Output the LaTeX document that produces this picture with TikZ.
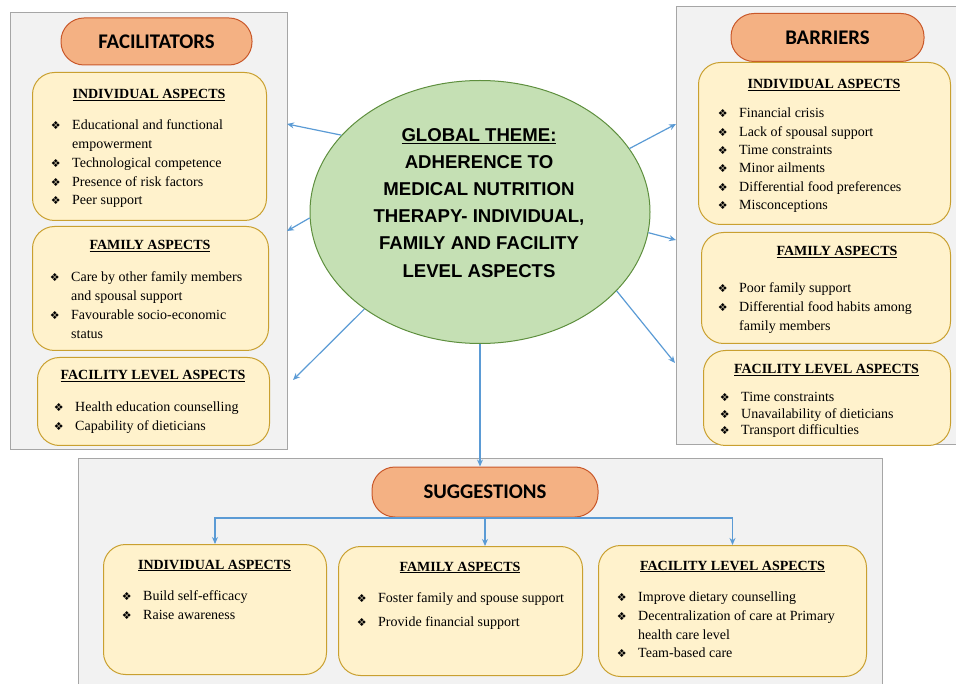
\documentclass[tikz,border=0pt]{standalone}
\usepackage{fontspec}
\setmainfont{Liberation Serif}
\newfontfamily\pillfont{Carlito}
\newfontfamily\themefont{Liberation Sans}
\newfontfamily\dvfont{DejaVu Sans}
\usetikzlibrary{shapes.geometric,arrows.meta}
\definecolor{panelfill}{HTML}{F2F2F2}
\definecolor{panelline}{HTML}{A6A6A6}
\definecolor{pillfill}{HTML}{F4B183}
\definecolor{pillline}{HTML}{C9582A}
\definecolor{boxfill}{HTML}{FFF2CC}
\definecolor{boxline}{HTML}{C9A030}
\definecolor{ellfill}{HTML}{C5E0B4}
\definecolor{ellline}{HTML}{5E8F3E}
\definecolor{arrowc}{HTML}{5B9BD5}
\newcommand\bul{\rule{0pt}{10pt}\llap{{\dvfont\fontsize{11}{11}\selectfont ❖}\hspace{11.5pt}}}
\tikzset{
  panel/.style={draw=panelline, fill=panelfill, line width=1pt},
  pill/.style={draw=pillline, fill=pillfill, line width=1pt, rounded corners=23pt, inner sep=0pt, font=\pillfont\bfseries\fontsize{20.8}{20.8}\selectfont},
  ybox/.style={draw=boxline, fill=boxfill, line width=1pt, rounded corners=22pt, inner sep=0pt, anchor=north west},
  ttl/.style={anchor=base, inner sep=0pt, font=\bfseries\fontsize{14}{14}\selectfont},
  lst/.style={anchor=north west, align=left, inner sep=0pt, yshift=10pt, font=\fontsize{14}{#1}\selectfont},
  lst/.default=19,
  arr/.style={draw=arrowc, line width=1.2pt, -{Stealth[length=7pt,width=6pt]}},
}
\begin{document}
\begin{tikzpicture}[x=1pt,y=-1pt]
\useasboundingbox (0,0) rectangle (956,684);
\clip (0,0) rectangle (956,684);
% panels
\draw[panel] (10,13) rectangle (287,449);
\draw[panel] (676,7) rectangle (965,445);
\draw[panel] (78,458) rectangle (882,695);
% pills
\node[pill, minimum width=191pt, minimum height=47pt] (facp) at (156.5,41.5) {FACILITATORS};
\node[pill, minimum width=193pt, minimum height=48pt] (barp) at (827.5,37.5) {BARRIERS};
\node[pill, minimum width=226pt, minimum height=50pt] (sugp) at (485,492) {SUGGESTIONS};
% facilitator boxes
\node[ybox, minimum width=234pt, minimum height=148pt] (fib) at (32,72) {};
\node[ybox, minimum width=236pt, minimum height=124pt] (ffb) at (32,226) {};
\node[ybox, minimum width=232pt, minimum height=88pt] (fcb) at (37,357) {};
% barrier boxes
\node[ybox, minimum width=252pt, minimum height=162pt] (bib) at (698,62) {};
\node[ybox, minimum width=249pt, minimum height=111pt] (bfb) at (701,232) {};
\node[ybox, minimum width=247pt, minimum height=95pt] (bcb) at (703,350) {};
% suggestion boxes
\node[ybox, minimum width=223pt, minimum height=130pt] (sib) at (103,544) {};
\node[ybox, minimum width=244pt, minimum height=129pt] (sfb) at (338,546) {};
\node[ybox, minimum width=268pt, minimum height=131pt] (scb) at (598,545) {};
% ellipse
\node[ellipse, draw=ellline, fill=ellfill, line width=1pt, minimum width=340pt, minimum height=263pt, inner sep=0pt] (ell) at (480,212) {};
\node[anchor=north, align=center, inner sep=0pt, font=\themefont\bfseries\fontsize{18.6}{27.2}\selectfont] (theme) at (479,127)
  {\rule{0pt}{14pt}\underline{GLOBAL THEME:}\\ADHERENCE TO\\MEDICAL NUTRITION\\THERAPY- INDIVIDUAL,\\FAMILY AND FACILITY\\LEVEL ASPECTS};
% facilitators text
\node[ttl] (fit) at (149,99) {\underline{INDIVIDUAL ASPECTS}};
\node[lst=18.8] (fil) at (72,129.5) {\bul Educational and functional\\empowerment\\\bul Technological competence\\\bul Presence of risk factors\\\bul Peer support};
\node[ttl] (fft) at (150,250) {\underline{FAMILY ASPECTS}};
\node[lst=18.8] (ffl) at (71,281.5) {\bul Care by other family members\\and spousal support\\\bul Favourable socio-economic\\status};
\node[ttl] (fct) at (153,380) {\underline{FACILITY LEVEL ASPECTS}};
\node[lst=19] (fcl) at (75,411.5) {\bul Health education counselling\\\bul Capability of dieticians};
% barriers text
\node[ttl] (bit) at (824,89) {\underline{INDIVIDUAL ASPECTS}};
\node[lst=18.4] (bil) at (739,117.5) {\bul Financial crisis\\\bul Lack of spousal support\\\bul Time constraints\\\bul Minor ailments\\\bul Differential food preferences\\\bul Misconceptions};
\node[ttl] (bft) at (837,256) {\underline{FAMILY ASPECTS}};
\node[lst=19] (bfl) at (739,292.5) {\bul Poor family support\\\bul Differential food habits among\\family members};
\node[ttl] (bct) at (826.5,374) {\underline{FACILITY LEVEL ASPECTS}};
\node[lst=16.5] (bcl) at (741,401.5) {\bul Time constraints\\\bul Unavailability of dieticians\\\bul Transport difficulties};
% suggestions text
\node[ttl] (sit) at (214.5,569) {\underline{INDIVIDUAL ASPECTS}};
\node[lst=19] (sil) at (143,600.5) {\bul Build self-efficacy\\\bul Raise awareness};
\node[ttl] (sft) at (460,571) {\underline{FAMILY ASPECTS}};
\node[lst=24] (sfl) at (378,602.5) {\bul Foster family and spouse support\\\bul Provide financial support};
\node[ttl] (sct) at (732.5,570) {\underline{FACILITY LEVEL ASPECTS}};
\node[lst=18.7] (scl) at (638,601.5) {\bul Improve dietary counselling\\\bul Decentralization of care at Primary\\health care level\\\bul Team-based care};
% arrow ends
\coordinate (e1) at (287,124);
\coordinate (e2) at (287,231);
\coordinate (e3) at (293,380);
\coordinate (e4) at (676,124);
\coordinate (e5) at (676,240);
\coordinate (e6) at (675,363);
\coordinate (j) at (485,518);
\draw[arr] (ell.151.8) -- (e1);
\draw[arr] (ell.182.4) -- (e2);
\draw[arr] (ell.220.2) -- (e3);
\draw[arr] (ell.23.7) -- (e4);
\draw[arr] (ell.-7) -- (e5);
\draw[arr] (ell.-30.4) -- (e6);
\draw[arr] (ell.south) -- (ell.south |- sugp.north);
\draw[arr] (j) -| (sib.north);
\draw[arr] (j) -| (scb.north);
\draw[arr] (sugp.south) -- (sugp.south |- sfb.north);
\end{tikzpicture}
\end{document}
